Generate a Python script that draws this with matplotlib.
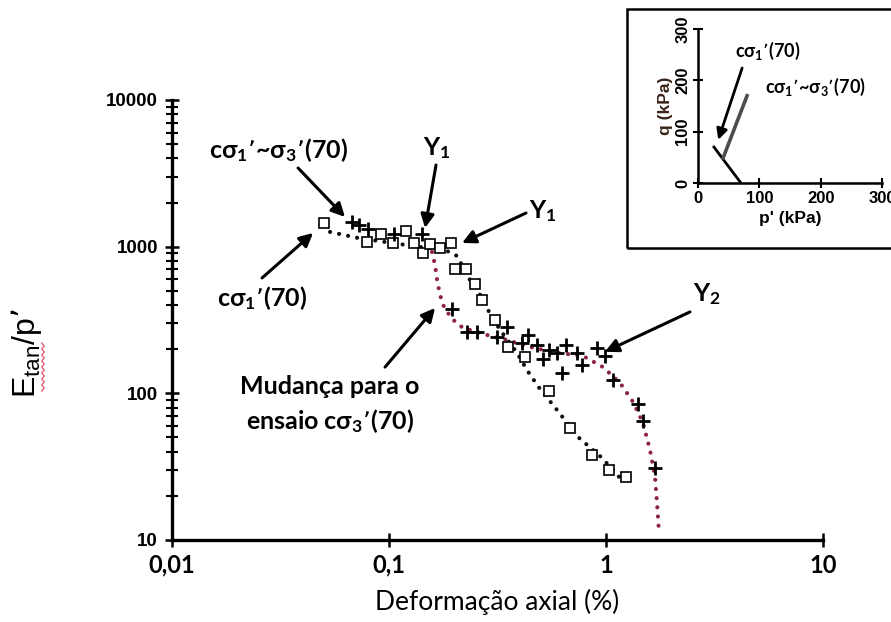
import matplotlib

matplotlib.use("Agg")

import matplotlib.pyplot as plt
from matplotlib.lines import Line2D
from matplotlib.patches import Rectangle

plt.rcParams["mathtext.default"] = "regular"

# cσ1'(70): open squares and the dotted trend through them
sq_strain = [0.0502, 0.0792, 0.0918, 0.1043, 0.1197, 0.1304, 0.1435, 0.1545,
             0.1718, 0.1931, 0.2014, 0.2263, 0.249, 0.2683, 0.3079, 0.3535,
             0.4234, 0.546, 0.6825, 0.862, 1.032, 1.236]
sq_stiff = [1451, 1077, 1221, 1060, 1279, 1060, 906, 1043,
            980, 1060, 705, 705, 557, 433, 316, 207,
            177, 104, 58.1, 38.0, 30.0, 26.9]
dot_strain = [0.0535, 0.072, 0.0959, 0.139, 0.1812, 0.2058, 0.2312, 0.26,
              0.2859, 0.3248, 0.389, 0.4324, 0.4966, 0.5944, 0.743, 0.9585, 1.16]
dot_stiff = [1260, 1146, 1077, 995, 950, 864, 622, 483,
             370, 271, 189, 144, 107, 77.1, 50.4, 36.3, 26.5]

# cσ1'~σ3'(70): crosses and the dotted trend after switching to cσ3'(70)
cr_strain = [0.0675, 0.0727, 0.080, 0.1054, 0.1419, 0.1951, 0.2288, 0.2543,
             0.3145, 0.3498, 0.410, 0.437, 0.481, 0.5125, 0.546, 0.5944,
             0.627, 0.654, 0.735, 0.775, 0.909, 0.989, 1.077, 1.404, 1.481, 1.682]
cr_stiff = [1474, 1406, 1320, 1221, 1221, 376, 262, 262,
            242, 284, 221, 250, 214, 172, 198, 189,
            138, 214, 189, 156, 204, 180, 123, 84.7, 64.8, 31.0]
red_strain = [0.1578, 0.163, 0.1665, 0.1718, 0.1793, 0.1951, 0.2193, 0.2829,
              0.3498, 0.4466, 0.5944, 0.783, 0.9687, 1.16, 1.332, 1.481,
              1.595, 1.682, 1.718, 1.754]
red_stiff = [920, 750, 593, 469, 388, 322, 279, 250,
             231, 207, 189, 180, 151, 118, 87.4, 62.8,
             41.1, 26.9, 17.9, 11.4]

x_ticks = [0.01, 0.1, 1, 10]
x_tick_labels = ["0,01", "0,1", "1", "10"]
y_ticks = [10, 100, 1000, 10000]
y_tick_labels = ["10", "100", "1000", "10000"]

# stress path inset (p', q) in kPa
path1_p = [70, 26]
path1_q = [0, 70]
path2_p = [41, 80]
path2_q = [49, 170]
inset_ticks = [0, 100, 200, 300]

SANS = ["Lato", "DejaVu Sans"]
ARIAL = ["Liberation Sans", "DejaVu Sans"]
MAROON = "#8e2348"

fig = plt.figure(figsize=(8.91, 6.22), dpi=100)
ax = fig.add_axes([172 / 891, 82 / 622, 651 / 891, 440 / 622])

dotted = (0, (0.01, 2.2))
ax.plot(dot_strain, dot_stiff, color="#111111", lw=3.0, ls=dotted,
        dash_capstyle="round", zorder=2)
ax.plot(red_strain, red_stiff, color=MAROON, lw=3.0, ls=dotted,
        dash_capstyle="round", zorder=2)
ax.plot(sq_strain, sq_stiff, ls="none", marker="s", ms=7.8, mfc="white",
        mec="black", mew=1.2, zorder=3)
ax.plot(cr_strain, cr_stiff, ls="none", marker="+", ms=10, mec="black",
        mew=2.0, zorder=4)

ax.set_xscale("log")
ax.set_yscale("log")
ax.set_xlim(0.01, 10)
ax.set_ylim(10, 10000)
for side in ("top", "right"):
    ax.spines[side].set_visible(False)
for side in ("left", "bottom"):
    ax.spines[side].set_linewidth(2.4)

ax.set_xticks(x_ticks)
ax.set_xticklabels(x_tick_labels, fontfamily=SANS, fontweight="bold", fontsize=17)
ax.xaxis.set_minor_locator(matplotlib.ticker.NullLocator())
ax.set_yticks(y_ticks)
ax.set_yticklabels(y_tick_labels, fontfamily=ARIAL, fontweight="bold", fontsize=13.5)
ax.yaxis.set_minor_locator(matplotlib.ticker.LogLocator(base=10, subs=range(2, 10)))
ax.yaxis.set_minor_formatter(matplotlib.ticker.NullFormatter())
ax.tick_params(axis="both", which="major", direction="inout", length=10, width=1.8, pad=5)
ax.tick_params(axis="y", which="minor", direction="inout", length=8, width=1.5)

ax.set_xlabel("Deformação axial (%)", fontfamily=SANS, fontsize=19)
ax.xaxis.set_label_coords(0.5, -0.11)
ax.set_ylabel("E$_{tan}$/p’", fontfamily=ARIAL, fontsize=23)
ax.yaxis.set_label_coords(-0.197, 0.425)

# spell-check squiggle under the y label
squiggle_y = [343 + 3 * i for i in range(17)]
squiggle_x = [43 + (1.2 if i % 2 else -1.2) for i in range(17)]
fig.add_artist(Line2D([v / 891 for v in squiggle_x],
                      [1 - v / 622 for v in squiggle_y],
                      transform=fig.transFigure, color="#e0506a", lw=0.9))

arrow = dict(arrowstyle="-|>", lw=2.2, color="black", mutation_scale=20,
             shrinkA=0, shrinkB=0)
# (label, text position, arrow tail, arrow tip) in data coordinates
notes = [
    ("cσ$_1$’~σ$_3$’(70)", (0.0308, 4560), (0.0381, 3440), (0.0627, 1594)),
    ("Y$_1$", (0.1665, 4708), (0.1647, 3605), (0.1466, 1341)),
    ("Y$_1$", (0.5125, 1751), (0.428, 1697), (0.2170, 1060)),
    ("cσ$_1$’(70)", (0.026, 447), (0.026, 612), (0.0447, 1240)),
    ("Y$_2$", (2.92, 476), (2.438, 359), (0.989, 192)),
    ("Mudança para o\nensaio cσ$_3$’(70)", (0.0535, 83.4), (0.0959, 151), (0.163, 382)),
]
for label, text_xy, tail, tip in notes:
    ax.text(*text_xy, label, ha="center", va="center", fontfamily=SANS,
            fontweight="bold", fontsize=18, linespacing=1.4, clip_on=False)
    ax.annotate("", xy=tip, xytext=tail, arrowprops=arrow, annotation_clip=False)

# inset: stress paths in the p'-q plane
fig.add_artist(Rectangle((627 / 891, (622 - 248) / 622), 0.4, 239 / 622,
                         transform=fig.transFigure, fill=False, lw=1.8,
                         edgecolor="black"))
ins = fig.add_axes([698 / 891, 439 / 622, 184 / 891, 154 / 622])
ins.patch.set_alpha(0)
ins.plot(path1_p, path1_q, color="black", lw=2.0)
ins.plot(path2_p, path2_q, color="#4d4d4d", lw=2.6)
ins.annotate("", xy=(33, 84), xytext=(72, 224),
             arrowprops=dict(arrowstyle="-|>", lw=2.0, color="black",
                             mutation_scale=16, shrinkA=0, shrinkB=0))
ins.text(60, 258, "cσ$_1$’(70)", fontfamily=SANS, fontweight="bold",
         fontsize=13, va="center")
ins.text(110, 188, "cσ$_1$’~σ$_3$’(70)", fontfamily=SANS, fontweight="bold",
         fontsize=13, va="center")
ins.set_xlim(0, 300)
ins.set_ylim(0, 300)
for side in ("top", "right"):
    ins.spines[side].set_visible(False)
for side in ("left", "bottom"):
    ins.spines[side].set_linewidth(1.8)
ins.set_xticks(inset_ticks)
ins.set_yticks(inset_ticks)
ins.set_xticklabels([str(t) for t in inset_ticks], fontfamily=ARIAL,
                    fontweight="bold", fontsize=12)
ins.set_yticklabels([str(t) for t in inset_ticks], fontfamily=ARIAL,
                    fontweight="bold", fontsize=12, rotation=90, va="center")
ins.tick_params(direction="inout", length=7, width=1.5, pad=2)
ins.set_xlabel("p' (kPa)", fontfamily=ARIAL, fontweight="bold", fontsize=12.5, labelpad=4)
ins.set_ylabel("q (kPa)", fontfamily=ARIAL, fontweight="bold", fontsize=12.5,
               labelpad=2, color="#3b2418")

fig.savefig("out.png", dpi=100, facecolor="white")
